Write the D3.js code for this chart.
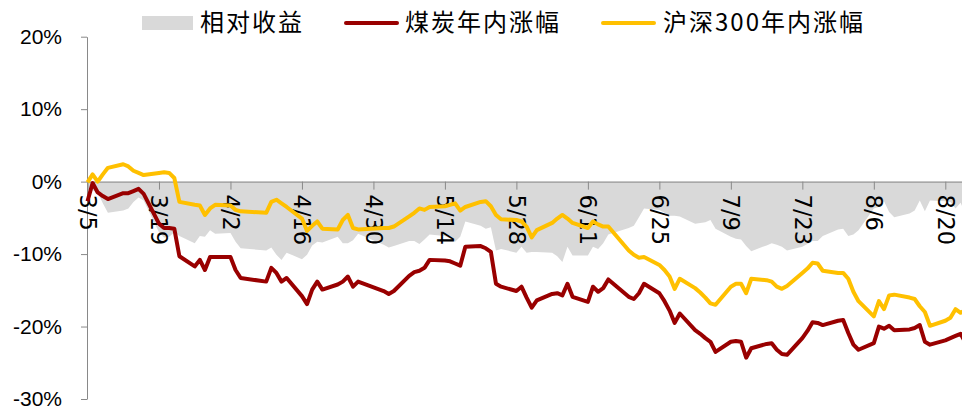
<!DOCTYPE html>
<html><head><meta charset="utf-8">
<script src="https://cdn.jsdelivr.net/npm/d3@7"></script>
<style>html,body{margin:0;padding:0;background:#fff;overflow:hidden}</style>
</head><body><svg id="c" width="962" height="409"></svg>
<script>
const dates = ["3/5","3/6","3/7","3/8","3/9","3/12","3/13","3/14","3/15","3/16","3/19","3/20","3/21","3/22","3/23","3/26","3/27","3/28","3/29","3/30",
"4/2","4/3","4/4","4/9","4/10","4/11","4/12","4/13","4/16","4/17","4/18","4/19","4/20","4/23","4/24","4/25","4/26","4/27",
"5/2","5/3","5/4","5/7","5/8","5/9","5/10","5/11","5/14","5/15","5/16","5/17","5/18","5/21","5/22","5/23","5/24","5/25","5/28","5/29","5/30","5/31",
"6/1","6/4","6/5","6/6","6/7","6/8","6/11","6/12","6/13","6/14","6/15","6/19","6/20","6/21","6/22","6/25","6/26","6/27","6/28","6/29",
"7/2","7/3","7/4","7/5","7/6","7/9","7/10","7/11","7/12","7/13","7/16","7/17","7/18","7/19","7/20","7/23","7/24","7/25","7/26","7/27","7/30","7/31",
"8/1","8/2","8/3","8/6","8/7","8/8","8/9","8/10","8/13","8/14","8/15","8/16","8/17","8/20","8/21","8/22","8/23","8/24"];

const coal = [-2.7,-0.2,-1.5,-2.0,-2.4,-1.6,-1.6,-1.3,-1.0,-1.7,-5.8,-6.4,-6.4,-6.5,-10.3,-11.7,-10.8,-12.2,-10.4,-10.4,
-10.4,-12.2,-13.3,-13.8,-11.9,-12.6,-13.8,-13.3,-15.8,-16.9,-14.9,-13.8,-14.9,-14.2,-13.8,-13.1,-14.5,-13.8,
-15.1,-15.5,-15.1,-13.0,-12.5,-12.3,-11.9,-10.8,-10.9,-11.0,-11.3,-11.6,-9.0,-8.9,-9.2,-9.7,-14.1,-14.5,-15.1,-14.5,-16.0,-17.4,
-16.4,-15.5,-15.4,-15.7,-14.1,-15.9,-16.6,-14.5,-15.2,-14.7,-13.5,-15.9,-16.2,-15.4,-14.1,-15.4,-16.5,-17.8,-19.5,-18.2,
-20.5,-21.0,-21.6,-22.1,-23.5,-22.1,-22.0,-22.1,-24.3,-23.0,-22.4,-22.3,-23.2,-23.8,-23.9,-21.6,-20.6,-19.4,-19.5,-19.8,-19.2,-19.1,
-20.9,-22.5,-23.2,-22.3,-20.0,-20.3,-19.9,-20.5,-20.4,-20.2,-19.8,-22.1,-22.5,-21.9,-21.6,-21.3,-21.0,-22.3];

const hs300 = [-0.1,1.0,0.0,1.0,1.9,2.4,2.1,1.5,1.2,0.9,1.2,1.3,1.2,0.5,-2.8,-3.2,-3.3,-4.6,-3.7,-3.2,
-3.3,-3.9,-4.1,-4.3,-2.8,-2.5,-3.0,-3.5,-5.1,-6.8,-6.1,-5.5,-6.5,-6.6,-5.3,-4.6,-6.4,-6.6,
-6.4,-6.4,-6.2,-4.8,-4.3,-3.7,-3.9,-3.5,-3.4,-3.2,-3.0,-4.0,-3.5,-2.8,-2.7,-3.4,-4.6,-5.2,-5.3,-5.5,-6.2,-7.7,
-6.7,-5.7,-5.1,-4.6,-5.1,-5.7,-6.4,-5.5,-5.9,-6.2,-6.2,-9.5,-10.1,-10.5,-10.4,-11.5,-12.2,-13.1,-14.8,-13.4,
-14.7,-15.3,-16.0,-16.8,-17.0,-14.5,-14.1,-14.1,-15.4,-13.4,-13.6,-13.8,-14.5,-14.8,-14.4,-12.6,-12.0,-11.2,-11.3,-12.3,-12.6,-12.6,
-13.4,-15.2,-16.5,-18.6,-16.5,-17.6,-15.7,-15.6,-16.0,-16.2,-17.2,-18.0,-19.9,-19.2,-18.8,-17.6,-18.1,-17.7];

const relative = [-2.6,-1.2,-1.5,-3.0,-4.3,-4.0,-3.7,-2.8,-2.2,-2.6,-7.0,-7.7,-7.6,-7.0,-7.5,-8.5,-7.5,-7.6,-6.7,-7.2,
-7.1,-8.3,-9.2,-9.5,-9.1,-10.1,-10.8,-9.8,-10.7,-10.1,-8.8,-8.3,-8.4,-7.6,-8.5,-8.5,-8.1,-7.2,
-8.7,-9.1,-8.9,-8.2,-8.2,-8.6,-8.0,-7.3,-7.5,-7.8,-8.3,-7.6,-5.5,-6.1,-6.5,-6.3,-9.5,-9.3,-9.8,-9.0,-9.8,-9.7,
-9.7,-9.8,-10.3,-11.1,-9.0,-10.2,-10.2,-9.0,-9.3,-8.5,-7.3,-6.4,-6.1,-4.9,-3.7,-3.9,-4.3,-4.7,-4.7,-4.8,
-5.8,-5.7,-5.6,-5.3,-6.5,-7.6,-7.9,-8.0,-8.9,-9.6,-8.8,-8.5,-8.7,-9.0,-9.5,-9.0,-8.6,-8.2,-8.2,-7.5,-6.6,-6.5,
-7.5,-7.3,-6.7,-3.7,-3.5,-2.7,-4.2,-4.9,-4.4,-4.0,-2.6,-4.1,-2.6,-2.7,-2.8,-3.7,-2.9,-4.6];

const yTicks = [20, 10, 0, -10, -20, -30];
const xTickLabels = ["3/5","3/19","4/2","4/16","4/30","5/14","5/28","6/11","6/25","7/9","7/23","8/6","8/20"];
const seriesNames = ["相对收益", "煤炭年内涨幅", "沪深300年内涨幅"];
const seriesColors = ["#d9d9d9", "#990000", "#ffc000"];

const parse = s => { const [m, d] = s.split("/").map(Number); return new Date(2018, m - 1, d); };
const svg = d3.select("#c");
const x = d3.scaleTime().domain([parse("3/5"), parse("8/20")]).range([87.5, 945.3]);
const y = d3.scaleLinear().domain([-30, 20]).range([399, 36.7]);

const rows = dates.map((d, i) => ({ date: parse(d), coal: coal[i], hs: hs300[i], rel: relative[i] }));

// area
svg.append("path").datum(rows)
  .attr("fill", seriesColors[0])
  .attr("d", d3.area().x(d => x(d.date)).y0(y(0)).y1(d => y(d.rel)));

// y axis
const yAxis = svg.append("g").attr("transform", "translate(87,0)")
  .call(d3.axisLeft(y).tickValues(yTicks).tickFormat(d => d + "%").tickSizeInner(6).tickSizeOuter(0).tickPadding(19));
yAxis.select(".domain").attr("stroke", "#898989");
yAxis.selectAll(".tick line").attr("stroke", "#898989");
yAxis.selectAll("text").attr("font-family", "'Liberation Sans', Arial, sans-serif").attr("font-size", 21).attr("fill", "#000");

// x axis
const xAxis = svg.append("g").attr("transform", `translate(0,${y(0)})`)
  .call(d3.axisBottom(x).tickValues(xTickLabels.map(parse)).tickFormat((d, i) => xTickLabels[i]).tickSizeInner(8).tickSizeOuter(0));
xAxis.select(".domain").remove();
xAxis.append("line").attr("x1", 87).attr("x2", 962).attr("y1", 0.5).attr("y2", 0.5).attr("stroke", "#898989");
xAxis.selectAll(".tick line").attr("stroke", "#898989");
xAxis.selectAll(".tick text")
  .attr("transform", "rotate(90)")
  .attr("x", 13).attr("y", 0).attr("dy", "0.36em")
  .attr("text-anchor", "start")
  .attr("font-family", "'DejaVu Sans', sans-serif").attr("font-size", 22.5).attr("fill", "#000");

// lines
const line = key => d3.line().x(d => x(d.date)).y(d => y(d[key]));
svg.append("path").datum(rows).attr("fill", "none").attr("stroke", seriesColors[1])
  .attr("stroke-width", 4).attr("stroke-linejoin", "round").attr("d", line("coal"));
svg.append("path").datum(rows).attr("fill", "none").attr("stroke", seriesColors[2])
  .attr("stroke-width", 4).attr("stroke-linejoin", "round").attr("d", line("hs"));

// legend
const lg = svg.append("g").attr("font-family", "'Noto Sans CJK SC', sans-serif").attr("font-size", 24).attr("fill", "#000");
lg.append("rect").attr("x", 142).attr("y", 16).attr("width", 51).attr("height", 14).attr("fill", seriesColors[0]);
lg.append("text").attr("x", 200).attr("y", 23).attr("dy", "0.35em").attr("letter-spacing", 2).text(seriesNames[0]);
lg.append("line").attr("x1", 346).attr("x2", 397).attr("y1", 23).attr("y2", 23).attr("stroke", seriesColors[1]).attr("stroke-width", 4).attr("stroke-linecap", "round");
lg.append("text").attr("x", 405).attr("y", 23).attr("dy", "0.35em").attr("letter-spacing", 2).text(seriesNames[1]);
lg.append("line").attr("x1", 603).attr("x2", 654).attr("y1", 23).attr("y2", 23).attr("stroke", seriesColors[2]).attr("stroke-width", 4).attr("stroke-linecap", "round");
lg.append("text").attr("x", 663).attr("y", 23).attr("dy", "0.35em").attr("letter-spacing", 2).text(seriesNames[2]);
</script></body></html>
